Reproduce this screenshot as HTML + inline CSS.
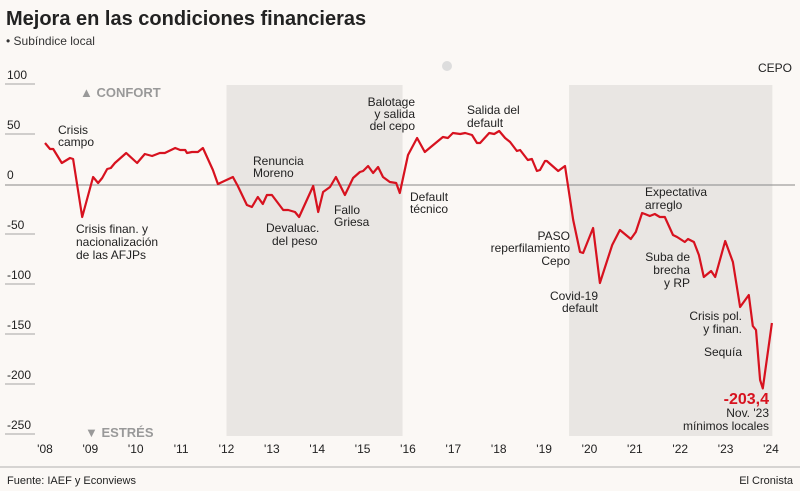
<!DOCTYPE html>
<html><head><meta charset="utf-8"><style>
body{margin:0;background:#fbf8f5;}
svg{display:block;font-family:"Liberation Sans",sans-serif;}
</style></head><body>
<svg id="chart" width="800" height="491" viewBox="0 0 800 491">
<rect width="800" height="491" fill="#fbf8f5"/>
<text x="6" y="25" font-size="20" font-weight="bold" fill="#222">Mejora en las condiciones financieras</text>
<text x="6" y="45" font-size="12" fill="#333">• Subíndice local</text>
<circle cx="447" cy="66" r="5" fill="#ddd"/>
<text x="792" y="72" font-size="12" fill="#222" text-anchor="end">CEPO</text>
<g id="shades"></g>
<g id="yaxis"></g>
<g id="xaxis"></g>
<text x="80" y="97" font-size="13" font-weight="bold" fill="#999">▲ CONFORT</text>
<text x="85" y="437" font-size="13" font-weight="bold" fill="#999">▼ ESTRÉS</text>
<path id="line" fill="none" stroke="#d7121f" stroke-width="2.2" stroke-linejoin="round"/>
<g font-size="12" fill="#222">
<text x="58" y="134">Crisis</text><text x="58" y="146">campo</text>
<text x="76" y="233">Crisis finan. y</text><text x="76" y="246">nacionalización</text><text x="76" y="259">de las AFJPs</text>
<text x="253" y="165">Renuncia</text><text x="253" y="177">Moreno</text>
<text x="266" y="232">Devaluac.</text><text x="272" y="245">del peso</text>
<text x="334" y="214">Fallo</text><text x="334" y="226">Griesa</text>
<text x="415" y="106" text-anchor="end">Balotage</text><text x="415" y="118" text-anchor="end">y salida</text><text x="415" y="130" text-anchor="end">del cepo</text>
<text x="410" y="201">Default</text><text x="410" y="213">técnico</text>
<text x="467" y="114">Salida del</text><text x="467" y="127">default</text>
<text x="570" y="240" text-anchor="end">PASO</text><text x="570" y="252" text-anchor="end">reperfilamiento</text><text x="570" y="265" text-anchor="end">Cepo</text>
<text x="598" y="300" text-anchor="end">Covid-19</text><text x="598" y="312" text-anchor="end">default</text>
<text x="645" y="196">Expectativa</text><text x="645" y="209">arreglo</text>
<text x="690" y="261" text-anchor="end">Suba de</text><text x="690" y="274" text-anchor="end">brecha</text><text x="690" y="287" text-anchor="end">y RP</text>
<text x="742" y="320" text-anchor="end">Crisis pol.</text><text x="742" y="333" text-anchor="end">y finan.</text>
<text x="742" y="356" text-anchor="end">Sequía</text>
<text x="769" y="404" text-anchor="end" font-size="16" font-weight="bold" fill="#d7121f">-203,4</text>
<text x="769" y="417" text-anchor="end">Nov. '23</text><text x="769" y="430" text-anchor="end">mínimos locales</text>
</g>
<line x1="0" y1="467" x2="800" y2="467" stroke="#999" stroke-width="0.8"/>
<text x="7" y="484" font-size="11" fill="#222">Fuente: IAEF y Econviews</text>
<text x="793" y="484" font-size="11" fill="#222" text-anchor="end">El Cronista</text>
</svg>
<script>
const years=[2008.0,2008.11,2008.18,2008.37,2008.55,2008.62,2008.82,2009.06,2009.17,2009.26,2009.37,2009.45,2009.54,2009.79,2010.03,2010.20,2010.36,2010.53,2010.64,2010.87,2010.98,2011.09,2011.13,2011.24,2011.37,2011.48,2011.70,2011.81,2012.14,2012.25,2012.45,2012.56,2012.69,2012.80,2012.89,2013.00,2013.25,2013.36,2013.51,2013.60,2013.91,2014.02,2014.13,2014.28,2014.41,2014.61,2014.79,2014.94,2015.01,2015.12,2015.23,2015.34,2015.45,2015.60,2015.74,2015.82,2016.00,2016.20,2016.37,2016.53,2016.77,2016.88,2016.99,2017.15,2017.26,2017.41,2017.52,2017.59,2017.79,2017.90,2018.01,2018.14,2018.25,2018.40,2018.47,2018.64,2018.73,2018.84,2018.91,2019.02,2019.06,2019.31,2019.46,2019.64,2019.79,2019.86,2020.08,2020.23,2020.50,2020.67,2020.91,2021.02,2021.16,2021.22,2021.33,2021.44,2021.55,2021.66,2021.84,2021.93,2022.10,2022.17,2022.30,2022.41,2022.52,2022.68,2022.77,2022.99,2023.16,2023.32,2023.51,2023.60,2023.67,2023.76,2023.82,2024.02];
const values=[42,36,36,22,27,26,-32,8,2,7,16,17,22,32,22,31,29,32,32,37,35,35,32,33,33,37,15,1,8,-1,-20,-22,-12,-19,-10,-10,-25,-25,-27,-32,-1,-27,-7,-2,8,-10,7,13,14,19,12,18,8,3,2,-8,30,47,33,39,48,47,52,51,52,50,42,42,52,51,54,47,43,34,35,25,26,14,15,24,24,14,19,-35,-67,-68,-43,-98,-60,-45,-54,-47,-28,-29,-31,-29,-32,-32,-50,-52,-57,-54,-57,-70,-92,-86,-92,-56,-77,-122,-110,-141,-145,-195,-203.4,-138];
const yTicks=[100,50,0,-50,-100,-150,-200,-250];
const xTickYears=[2008,2009,2010,2011,2012,2013,2014,2015,2016,2017,2018,2019,2020,2021,2022,2023,2024];
const xTickLabels=["'08","'09","'10","'11","'12","'13","'14","'15","'16","'17","'18","'19","'20","'21","'22","'23","'24"];
const shadeStart=[2012.0,2019.55];
const shadeEnd=[2015.88,2024.03];
const X=t=>45+(t-2008)*45.375;
const Y=v=>185-v*1.0;
const NS='http://www.w3.org/2000/svg';
function mk(tag,attrs,parent){const e=document.createElementNS(NS,tag);for(const k in attrs)e.setAttribute(k,attrs[k]);parent.appendChild(e);return e;}
const sh=document.getElementById('shades');
shadeStart.forEach((s,i)=>{const r=mk('rect',{x:X(s),y:85,width:X(shadeEnd[i])-X(s),height:351,fill:'#e9e6e3'},sh);

});
const ya=document.getElementById('yaxis');
yTicks.forEach(v=>{
 if(v===0){const l=mk('line',{x1:5,x2:795,y1:Y(0),y2:Y(0),stroke:'#888','stroke-width':1},ya);
 
 }
 else{const l=mk('line',{x1:5,x2:35,y1:Y(v)-1,y2:Y(v)-1,stroke:'#888','stroke-width':0.8},ya);
 
 }
 const t=mk('text',{x:7,y:Y(v)-6,'font-size':12,fill:'#222'},ya);t.textContent=v;
 
 
});
const xa=document.getElementById('xaxis');
xTickYears.forEach((y,i)=>{const t=mk('text',{x:X(y),y:453,'font-size':12,fill:'#222','text-anchor':'middle'},xa);t.textContent=xTickLabels[i];

});
document.getElementById('line').setAttribute('d',years.map((t,i)=>(i?'L':'M')+X(t).toFixed(1)+','+Y(values[i]).toFixed(1)).join(''));
</script>
</body></html>
